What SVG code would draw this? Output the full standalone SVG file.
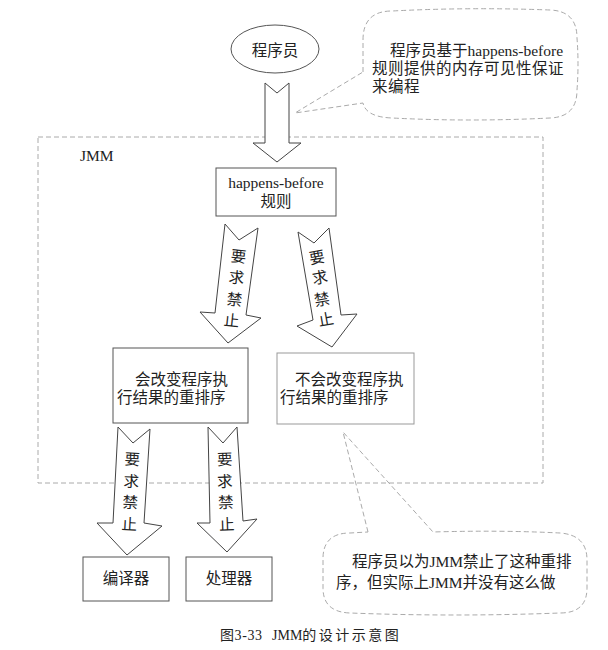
<svg xmlns="http://www.w3.org/2000/svg" width="608" height="650" viewBox="0 0 608 650">
<style>
text{font-family:"Liberation Serif","Noto Sans CJK SC",serif;font-size:15.5px;fill:#222}
.box{fill:#fff;stroke:#555;stroke-width:1}
.lbox{fill:#fff;stroke:#999;stroke-width:1}
.arrow{fill:#fff;stroke:#444;stroke-width:1;stroke-linejoin:miter}
.dash{fill:none;stroke:#aaa;stroke-width:1;stroke-dasharray:5,3}
.c{text-anchor:middle}
</style>
<rect width="608" height="650" fill="#fff"/>
<g id="jmm">
<rect class="dash" x="38" y="137" width="505" height="346"/>
<text x="80" y="161">JMM</text>
</g>
<g id="connectors">
<polygon class="arrow" points="265,83 277,93 289,83 289,143 301,143 277,162 253,143 265,143"/>
<g id="arrow-left">
<polygon class="arrow" points="225,224 239,240 258,228 246,315 261,318 228,343 200,312 215,313"/>
<text class="c" transform="translate(238,262) rotate(6)">要</text>
<text class="c" transform="translate(236,283) rotate(6)">求</text>
<text class="c" transform="translate(234,305) rotate(6)">禁</text>
<text class="c" transform="translate(231,326) rotate(6)">止</text>
</g>
<g id="arrow-right">
<polygon class="arrow" points="298,232 314,243 329,228 341,315 357,314 332,347 297,326 313,320"/>
<text class="c" transform="translate(318,263) rotate(-10)">要</text>
<text class="c" transform="translate(321,283) rotate(-10)">求</text>
<text class="c" transform="translate(323,305) rotate(-10)">禁</text>
<text class="c" transform="translate(327,325) rotate(-10)">止</text>
</g>
<g id="arrow-bl">
<polygon class="arrow" points="118,427 133,443 150,429 144,523 162,526 127,555 97,523 113,523"/>
<text class="c" transform="translate(132,465) rotate(3)">要</text>
<text class="c" transform="translate(131,487) rotate(3)">求</text>
<text class="c" transform="translate(130,508) rotate(3)">禁</text>
<text class="c" transform="translate(129,530) rotate(3)">止</text>
</g>
<g id="arrow-br">
<polygon class="arrow" points="208,427 223,443 237,427 243,521 257,519 227,552 197,523 210,523"/>
<text class="c" transform="translate(225,465) rotate(-2)">要</text>
<text class="c" transform="translate(225,487) rotate(-2)">求</text>
<text class="c" transform="translate(226,508) rotate(-2)">禁</text>
<text class="c" transform="translate(227,530) rotate(-2)">止</text>
</g>
</g>
<g id="programmer">
<ellipse cx="275" cy="49" rx="44" ry="24" fill="#fff" stroke="#555"/>
<text class="c" x="275" y="56">程序员</text>
</g>
<g id="callout-top">
<path class="dash" d="M363,72 L363,40 Q363,11 392,11 Q470,7 550,10 Q577,11 577,38 Q579,64 577,90 Q577,117 550,118 Q470,122 392,118 Q366,117 363,103 L295,113 Z"/>
<text x="390" y="56">程序员基于happens-before</text>
<text x="372" y="74" letter-spacing="0.5">规则提供的内存可见性保证</text>
<text x="372" y="92" letter-spacing="0.5">来编程</text>
</g>
<g id="hb">
<rect class="box" x="216" y="168" width="120" height="48"/>
<text class="c" x="276" y="188">happens-before</text>
<text class="c" x="276" y="207">规则</text>
</g>
<g id="reorder-change">
<rect class="box" x="113" y="348" width="135" height="75"/>
<text x="135" y="385">会改变程序执</text>
<text x="117" y="403">行结果的重排序</text>
</g>
<g id="reorder-nochange">
<rect class="lbox" x="277" y="353" width="137" height="71"/>
<text x="295" y="385">不会改变程序执</text>
<text x="280" y="403">行结果的重排序</text>
</g>
<g id="compiler">
<rect class="box" x="83" y="557" width="86" height="44"/>
<text class="c" x="126" y="584">编译器</text>
</g>
<g id="processor">
<rect class="box" x="186" y="557" width="86" height="44"/>
<text class="c" x="229" y="584">处理器</text>
</g>
<g id="callout-bottom">
<path class="dash" d="M368,532 L343,432 L433,532 Q500,530 560,533 Q587,535 587,560 L587,588 Q587,613 560,613 Q455,617 350,613 Q323,612 323,588 L323,557 Q324,533 350,533 Z"/>
<text x="352" y="567">程序员以为JMM禁止了这种重排</text>
<text x="336" y="588">序，但实际上JMM并没有这么做</text>
</g>
<g id="caption">
<text x="220" y="640" style="font-size:14px" textLength="42">图3-33</text>
<text x="272" y="640" style="font-size:14px">JMM<tspan letter-spacing="2.5">的设计示意图</tspan></text>
</g>
</svg>
